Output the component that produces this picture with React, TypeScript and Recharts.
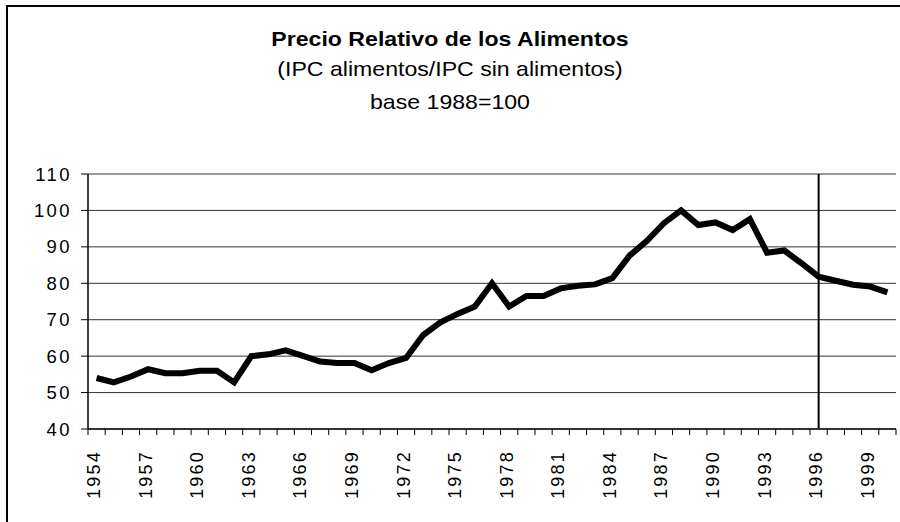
import React from "react";
import { CartesianGrid, Line, LineChart, ReferenceLine, XAxis, YAxis } from "recharts";

const years = [
  "1954", "1955", "1956", "1957", "1958", "1959", "1960", "1961", "1962", "1963",
  "1964", "1965", "1966", "1967", "1968", "1969", "1970", "1971", "1972", "1973",
  "1974", "1975", "1976", "1977", "1978", "1979", "1980", "1981", "1982", "1983",
  "1984", "1985", "1986", "1987", "1988", "1989", "1990", "1991", "1992", "1993",
  "1994", "1995", "1996", "1997", "1998", "1999", "2000",
];

const relativePrice = [
  54.0, 52.8, 54.4, 56.4, 55.3, 55.3, 56.0, 56.0, 52.8, 60.0,
  60.5, 61.6, 60.1, 58.5, 58.1, 58.1, 56.1, 58.1, 59.5, 65.8,
  69.3, 71.6, 73.6, 80.0, 73.6, 76.5, 76.5, 78.6, 79.3, 79.7,
  81.4, 87.6, 91.6, 96.5, 100.0, 96.0, 96.7, 94.6, 97.6, 88.4,
  89.0, 85.5, 81.8, 80.7, 79.6, 79.1, 77.5,
];

const yTicks = [40, 50, 60, 70, 80, 90, 100, 110];
const markerYear = "1996";

const data = years.map((year, i) => ({ year, value: relativePrice[i] }));

const W = 900;
const H = 522;
const margin = { top: 174, right: 4, bottom: 0, left: 0 };
const yAxisWidth = 88;
const xAxisHeight = 93;
const band = (W - margin.left - margin.right - yAxisWidth) / years.length;
const font = "'Liberation Sans', Arial, sans-serif";

function YearTick(props: any) {
  const { x, y, index, payload } = props;
  const half = band / 2;
  return (
    <g>
      <line x1={x - half} x2={x - half} y1={y} y2={y + 6} stroke="#000" strokeWidth={1} />
      {index === years.length - 1 && (
        <line x1={x + half} x2={x + half} y1={y} y2={y + 6} stroke="#000" strokeWidth={1} />
      )}
      {index % 3 === 0 && (
        <text
          x={0}
          y={0}
          transform={`translate(${x + 3.5},${y + 21}) rotate(-90)`}
          textAnchor="end"
          fontSize={18}
          letterSpacing={2.2}
          fontFamily={font}
          fill="#000"
        >
          {payload.value}
        </text>
      )}
    </g>
  );
}

const titleLine = (top: number, bold: boolean): React.CSSProperties => ({
  position: "absolute",
  left: 0,
  top,
  width: W,
  textAlign: "center",
  fontFamily: font,
  fontSize: 21,
  lineHeight: "21px",
  fontWeight: bold ? "bold" : "normal",
  color: "#000",
  transform: "scaleX(1.1)",
  transformOrigin: "450px 0",
  whiteSpace: "nowrap",
});

export default function App() {
  return (
    <div style={{ position: "absolute", left: 0, top: 0, width: W, height: H, overflow: "hidden", background: "#fff" }}>
      <div
        style={{
          position: "absolute",
          left: 6,
          top: 5,
          width: 1000,
          height: 1000,
          borderTop: "2px solid #000",
          borderLeft: "2px solid #000",
        }}
      />
      <div style={titleLine(28, true)}>Precio Relativo de los Alimentos</div>
      <div style={titleLine(58, false)}>(IPC alimentos/IPC sin alimentos)</div>
      <div style={titleLine(91, false)}>base 1988=100</div>
      <div style={{ position: "absolute", left: 0, top: 0 }}>
        <LineChart width={W} height={H} data={data} margin={margin}>
          <CartesianGrid vertical={false} stroke="#333" strokeWidth={1} />
          <XAxis
            dataKey="year"
            interval={0}
            padding={{ left: band / 2, right: band / 2 }}
            tickSize={0}
            tickMargin={0}
            tickLine={false}
            axisLine={{ stroke: "#333", strokeWidth: 2 }}
            tick={<YearTick />}
            height={xAxisHeight}
          />
          <YAxis
            domain={[40, 110]}
            ticks={yTicks}
            interval={0}
            width={yAxisWidth}
            tickSize={7}
            tickMargin={9}
            axisLine={{ stroke: "#000", strokeWidth: 1.5 }}
            tickLine={{ stroke: "#000" }}
            tick={{ fontSize: 18.5, fontFamily: font, fill: "#000", letterSpacing: 2.4 }}
          />
          <YAxis
            yAxisId="right"
            orientation="right"
            domain={[40, 110]}
            width={0}
            tick={false}
            tickLine={false}
            axisLine={{ stroke: "#888", strokeWidth: 2 }}
          />
          <ReferenceLine x={markerYear} stroke="#000" strokeWidth={2} />
          <Line
            type="linear"
            dataKey="value"
            stroke="#000"
            strokeWidth={6}
            dot={false}
            isAnimationActive={false}
          />
        </LineChart>
      </div>
    </div>
  );
}
